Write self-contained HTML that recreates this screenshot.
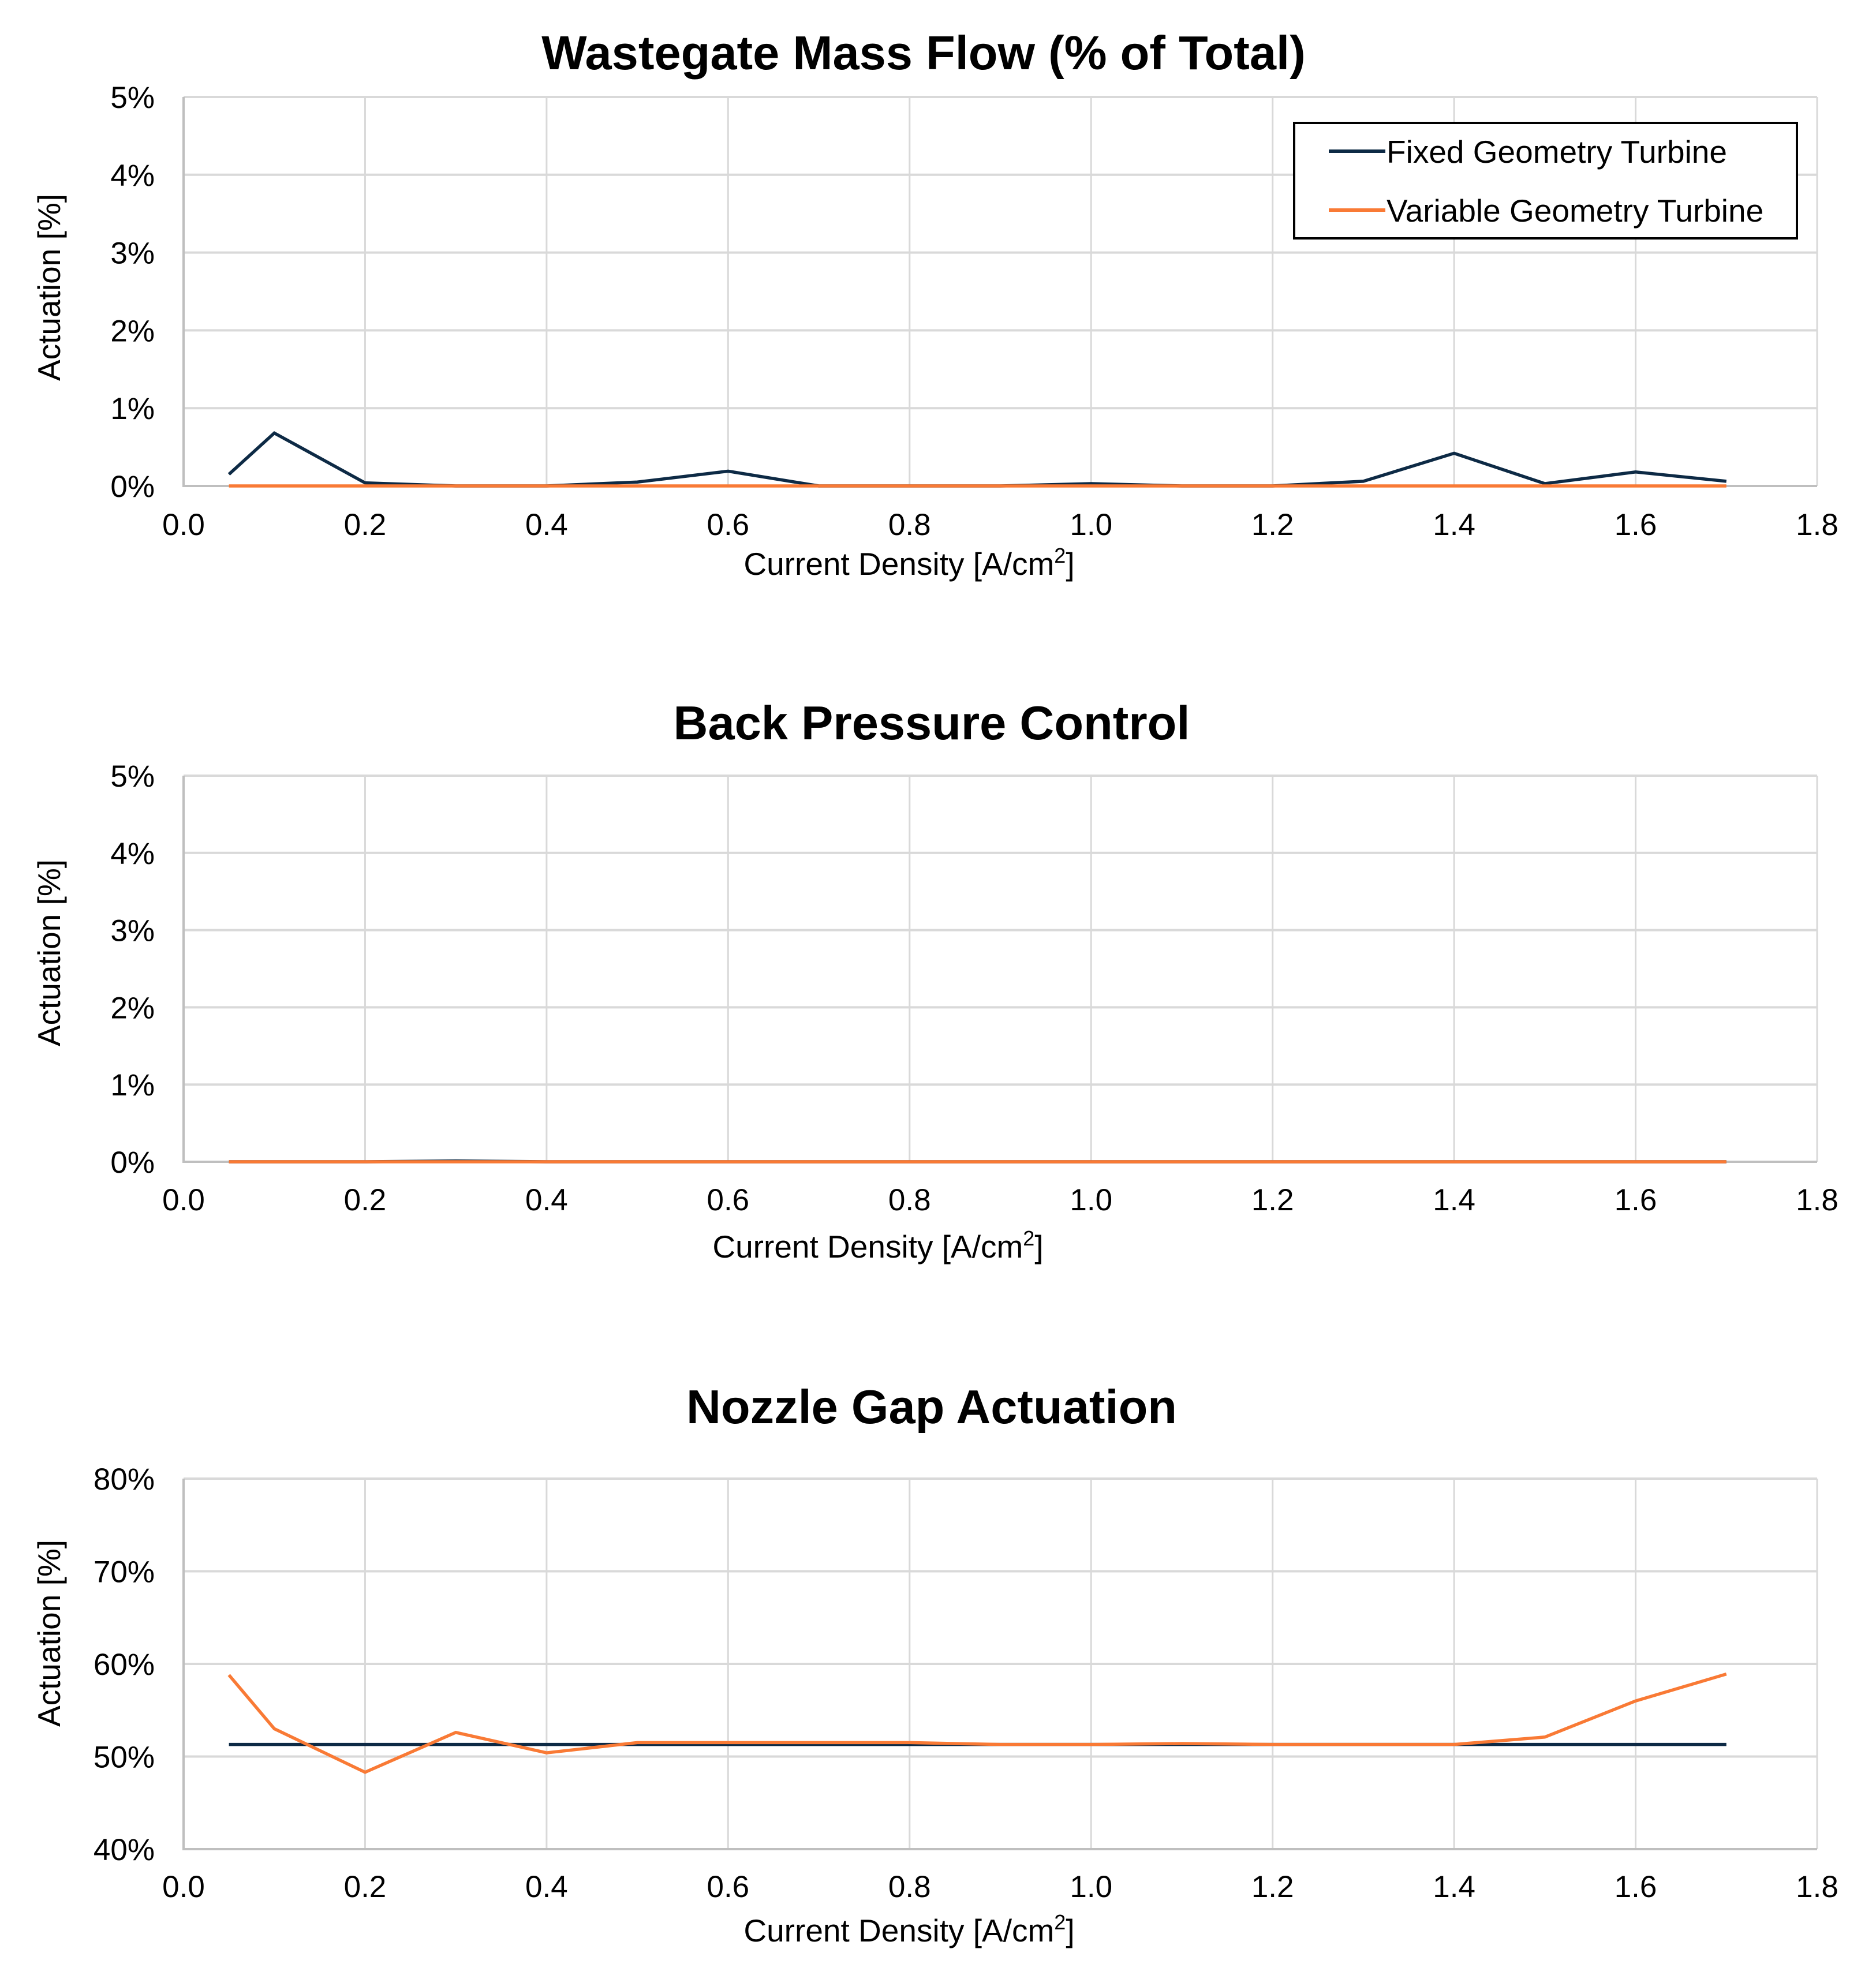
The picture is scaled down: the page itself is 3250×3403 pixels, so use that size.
<!DOCTYPE html>
<html><head><meta charset="utf-8">
<style>
html,body{margin:0;padding:0;background:#fff;}
svg{display:block;font-family:"Liberation Sans",Arial,sans-serif;}
</style></head>
<body>
<svg id="root" width="3250" height="3403" viewBox="0 0 3250 3403" xmlns="http://www.w3.org/2000/svg"></svg>
<script>
const xValues = [0.05,0.1,0.2,0.3,0.4,0.5,0.6,0.7,0.8,0.9,1.0,1.1,1.2,1.3,1.4,1.5,1.6,1.7];
const xTicks = [0.0,0.2,0.4,0.6,0.8,1.0,1.2,1.4,1.6,1.8];
const wgFixed = [0.15,0.68,0.04,0,0,0.05,0.19,0,0,0,0.03,0,0,0.06,0.42,0.03,0.18,0.06];
const wgVariable = [0,0,0,0,0,0,0,0,0,0,0,0,0,0,0,0,0,0];
const bpFixed = [0,0,0,0.01,0,0,0,0,0,0,0,0,0,0,0,0,0,0];
const bpVariable = [0,0,0,0,0,0,0,0,0,0,0,0,0,0,0,0,0,0];
const ngFixed = [51.3,51.3,51.3,51.3,51.3,51.3,51.3,51.3,51.3,51.3,51.3,51.3,51.3,51.3,51.3,51.3,51.3,51.3];
const ngVariable = [58.8,53.0,48.3,52.6,50.4,51.5,51.5,51.5,51.5,51.3,51.3,51.4,51.3,51.3,51.3,52.1,56.0,58.9];
const pctTicks1 = [0,1,2,3,4,5];
const pctTicks3 = [40,50,60,70,80];

const NS="http://www.w3.org/2000/svg";
const root=document.getElementById('root');
function mk(tag,attrs,parent){const e=document.createElementNS(NS,tag);for(const k in attrs)e.setAttribute(k,attrs[k]);(parent||root).appendChild(e);return e;}

function chart(cfg){
  const g=mk('g',{});
  
  
  const L=318,R=3148,T=cfg.top,B=cfg.bottom;
  const xs=v=>L+(v-0)/(1.8-0)*(R-L);
  const ys=v=>B-(v-cfg.ymin)/(cfg.ymax-cfg.ymin)*(B-T);
  cfg.yticks.forEach(t=>{
    const l=mk('line',{x1:L,x2:R,y1:ys(t),y2:ys(t),stroke:'#d9d9d9','stroke-width':4},g);
    
    
    const tx=mk('text',{x:268,y:ys(t)+19,'text-anchor':'end','font-size':53,fill:'#000'},g);
    tx.textContent=t+'%';
    
    
  });
  xTicks.forEach(t=>{
    const l=mk('line',{x1:xs(t),x2:xs(t),y1:T,y2:B,stroke:'#d9d9d9','stroke-width':3},g);
    
    
    const tx=mk('text',{x:xs(t),y:cfg.xlabY+19,'text-anchor':'middle','font-size':53,fill:'#000'},g);
    tx.textContent=t.toFixed(1);
    
    
  });
  const ax=mk('path',{d:`M${L},${T} L${L},${B} L${R},${B}`,fill:'none',stroke:'#bfbfbf','stroke-width':4},g);
  
  
  const series=[[cfg.fixed,'#0d2a45','fixed-geometry-line'],[cfg.variable,'#f97a35','variable-geometry-line']];
  series.forEach(s=>{
    const pts=xValues.map((x,i)=>xs(x)+','+ys(s[0][i])).join(' ');
    const p=mk('polyline',{points:pts,fill:'none',stroke:s[1],'stroke-width':5.5,'stroke-linejoin':'miter'},g);
    
    
  });
  const title=mk('text',{x:cfg.titleX,y:cfg.titleY+29,'text-anchor':'middle','font-size':83,'font-weight':'bold',fill:'#000'},g);
  title.textContent=cfg.title;
  
  
  const xt=mk('text',{x:cfg.xtX,y:cfg.xtY+19,'text-anchor':'middle','font-size':55,fill:'#000'},g);
  xt.innerHTML='Current Density [A/cm<tspan dy="-21" font-size="36">2</tspan><tspan dy="21">]</tspan>';
  
  
  const yt=mk('text',{x:0,y:0,'text-anchor':'middle','font-size':55,fill:'#000',transform:`translate(${104},${cfg.ytY}) rotate(-90)`},g);
  yt.textContent='Actuation [%]';
  
  
}

chart({name:'wastegate-chart',top:168,bottom:842,ymin:0,ymax:5,yticks:pctTicks1,fixed:wgFixed,variable:wgVariable,
  xlabY:908,title:'Wastegate Mass Flow (% of Total)',titleX:1600,titleY:91,xtX:1575,xtY:977,ytY:498});
chart({name:'back-pressure-chart',top:1344,bottom:2013,ymin:0,ymax:5,yticks:pctTicks1,fixed:bpFixed,variable:bpVariable,
  xlabY:2078,title:'Back Pressure Control',titleX:1614,titleY:1252,xtX:1521,xtY:2160,ytY:1651});
chart({name:'nozzle-gap-chart',top:2562,bottom:3204,ymin:40,ymax:80,yticks:pctTicks3,fixed:ngFixed,variable:ngVariable,
  xlabY:3268,title:'Nozzle Gap Actuation',titleX:1614,titleY:2437,xtX:1575,xtY:3345,ytY:2830});

const lg=mk('g',{});


const box=mk('rect',{x:2242,y:213,width:871,height:200,fill:'#fff',stroke:'#000','stroke-width':4},lg);


[['Fixed Geometry Turbine','#0d2a45',262],['Variable Geometry Turbine','#f97a35',364]].forEach(e=>{
  const l=mk('line',{x1:2302,x2:2400,y1:e[2],y2:e[2],stroke:e[1],'stroke-width':6},lg);
  
  
  const t=mk('text',{x:2402,y:e[2]+20,'font-size':55,fill:'#000'},lg);
  t.textContent=e[0];
  
  
});
</script>
</body></html>
